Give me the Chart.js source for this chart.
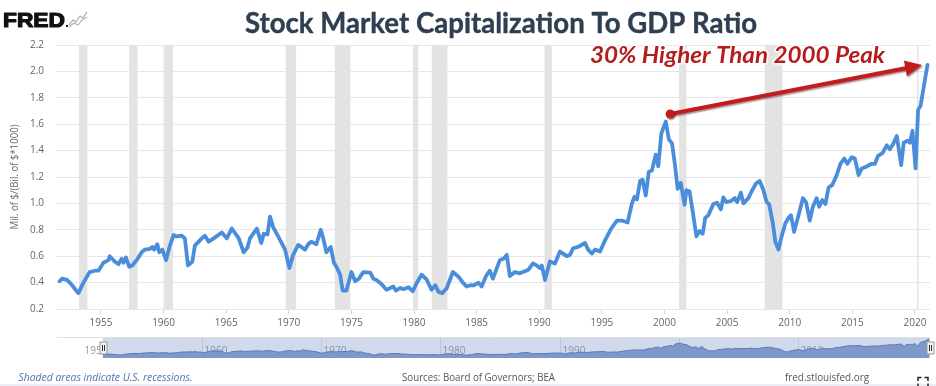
<!DOCTYPE html>
<html>
<head>
<meta charset="utf-8">
<script src="https://cdn.jsdelivr.net/npm/chart.js@4.4.1/dist/chart.umd.min.js"></script>
<style>
    html, body { margin: 0; padding: 0; background: #fff; overflow: hidden; }
    #wrap { position: relative; width: 936px; height: 386px; }
    #mainChart { position: absolute; left: 0; top: 0; }
    #navChart { position: absolute; left: 83px; top: 336px; }
</style>
</head>
<body>
<div id="wrap">
    <canvas id="mainChart" width="936" height="386"></canvas>
    <canvas id="navChart" width="853" height="26"></canvas>
</div>
<script>
// Stock market capitalization to GDP
const years = [
    1951.7, 1951.9, 1952.3, 1952.7, 1953.1, 1953.2, 1953.6, 1954.1, 1954.5, 1954.8,
    1955.2, 1955.6, 1955.7, 1956.1, 1956.4, 1956.65, 1956.8, 1957.0, 1957.25, 1957.5,
    1957.85, 1958.25, 1958.5, 1958.9, 1959.1, 1959.25, 1959.5, 1959.65, 1959.9, 1960.2,
    1960.5, 1960.8, 1961.05, 1961.45, 1961.7, 1961.95, 1962.3, 1962.5, 1963.05, 1963.3,
    1963.6, 1964.0, 1964.65, 1965.05, 1965.45, 1966.0, 1966.4, 1966.7, 1966.9, 1967.45,
    1967.8, 1968.0, 1968.3, 1968.5, 1968.75, 1969.15, 1969.7, 1970.05, 1970.35, 1970.75,
    1971.0, 1971.3, 1971.55, 1971.8, 1972.2, 1972.55, 1972.75, 1973.0, 1973.35, 1973.6,
    1973.8, 1974.1, 1974.3, 1974.6, 1975.0, 1975.3, 1975.6, 1975.95, 1976.5, 1976.75,
    1977.0, 1977.4, 1977.8, 1978.35, 1978.55, 1978.9, 1979.15, 1979.55, 1979.9, 1980.2,
    1980.6, 1981.0, 1981.4, 1981.7, 1981.95, 1982.25, 1982.6, 1983.1, 1983.55, 1983.9,
    1984.2, 1984.5, 1984.8, 1985.15, 1985.4, 1985.75, 1986.05, 1986.3, 1986.85, 1987.2,
    1987.4, 1987.65, 1988.05, 1988.45, 1989.1, 1989.5, 1989.8, 1990.05, 1990.2, 1990.45,
    1990.85, 1991.25, 1991.65, 1992.2, 1992.45, 1992.7, 1993.1, 1993.65, 1993.9, 1994.2,
    1994.45, 1994.85, 1995.25, 1995.75, 1996.2, 1996.6, 1997.05, 1997.4, 1997.6, 1997.8,
    1998.05, 1998.25, 1998.5, 1998.75, 1999.0, 1999.3, 1999.5, 1999.75, 2000.1, 2000.35,
    2000.6, 2000.85, 2001.05, 2001.3, 2001.6, 2001.75, 2002.0, 2002.25, 2002.55, 2002.8,
    2003.05, 2003.25, 2003.5, 2003.9, 2004.2, 2004.5, 2004.7, 2004.95, 2005.35, 2005.6,
    2005.8, 2006.1, 2006.3, 2006.7, 2006.95, 2007.3, 2007.6, 2007.9, 2008.15, 2008.35,
    2008.65, 2008.85, 2009.1, 2009.35, 2009.65, 2009.9, 2010.1, 2010.35, 2010.7, 2011.05,
    2011.3, 2011.6, 2011.85, 2012.15, 2012.35, 2012.6, 2012.85, 2013.1, 2013.4, 2013.75,
    2014.05, 2014.35, 2014.6, 2014.95, 2015.2, 2015.5, 2015.75, 2016.15, 2016.55, 2016.8,
    2017.05, 2017.4, 2017.75, 2018.0, 2018.2, 2018.55, 2018.9, 2019.1, 2019.4, 2019.6,
    2019.8, 2020.05, 2020.25, 2020.45, 2020.75, 2021.0
];
const ratio = [
    0.41, 0.43, 0.42, 0.38, 0.33, 0.32, 0.40, 0.48, 0.49, 0.49,
    0.55, 0.57, 0.60, 0.56, 0.54, 0.58, 0.55, 0.59, 0.52, 0.53,
    0.57, 0.63, 0.65, 0.655, 0.67, 0.65, 0.69, 0.63, 0.65, 0.57,
    0.68, 0.76, 0.75, 0.755, 0.735, 0.53, 0.56, 0.68, 0.735, 0.755,
    0.71, 0.735, 0.78, 0.735, 0.81, 0.735, 0.63, 0.665, 0.735, 0.81,
    0.70, 0.77, 0.765, 0.90, 0.82, 0.75, 0.65, 0.51, 0.61, 0.685,
    0.67, 0.65, 0.69, 0.71, 0.69, 0.80, 0.735, 0.63, 0.67, 0.55,
    0.52, 0.46, 0.34, 0.34, 0.48, 0.41, 0.43, 0.48, 0.475, 0.43,
    0.42, 0.39, 0.345, 0.37, 0.34, 0.36, 0.35, 0.365, 0.335, 0.395,
    0.46, 0.425, 0.345, 0.38, 0.33, 0.32, 0.355, 0.48, 0.445, 0.40,
    0.37, 0.38, 0.38, 0.40, 0.37, 0.45, 0.49, 0.43, 0.57, 0.585,
    0.61, 0.45, 0.48, 0.47, 0.495, 0.545, 0.53, 0.51, 0.53, 0.42,
    0.56, 0.545, 0.635, 0.60, 0.61, 0.66, 0.67, 0.70, 0.65, 0.62,
    0.65, 0.635, 0.72, 0.81, 0.87, 0.87, 0.855, 1.00, 1.05, 1.03,
    1.17, 1.18, 1.06, 1.24, 1.25, 1.37, 1.28, 1.53, 1.62, 1.485,
    1.455, 1.28, 1.11, 1.155, 0.99, 1.10, 1.09, 0.94, 0.75, 0.79,
    0.77, 0.89, 0.91, 0.995, 1.005, 0.955, 1.045, 1.01, 1.02, 1.04,
    1.01, 1.08, 1.00, 1.04, 1.09, 1.15, 1.17, 1.10, 1.01, 0.995,
    0.85, 0.71, 0.65, 0.75, 0.85, 0.89, 0.91, 0.785, 0.91, 1.04,
    1.01, 0.87, 0.975, 1.04, 0.975, 1.025, 0.995, 1.12, 1.14, 1.215,
    1.30, 1.34, 1.30, 1.35, 1.34, 1.215, 1.265, 1.28, 1.30, 1.30,
    1.36, 1.38, 1.44, 1.41, 1.44, 1.51, 1.29, 1.46, 1.475, 1.46,
    1.55, 1.265, 1.71, 1.74, 1.91, 2.05
];

// recession shading, start / end in fractional years
const recessionStart = [1953.25, 1957.25, 1960.0, 1969.75, 1973.67, 1979.92, 1981.42, 1990.42, 2001.17, 2008.0, 2020.17];
const recessionEnd   = [1953.92, 1957.92, 1960.75, 1970.58, 1974.92, 1980.33, 1982.67, 1991.0, 2001.75, 2009.42, 2020.27];

const xTickYears = [1955, 1960, 1965, 1970, 1975, 1980, 1985, 1990, 1995, 2000, 2005, 2010, 2015, 2020];
const yTickValues = [0.2, 0.4, 0.6, 0.8, 1.0, 1.2, 1.4, 1.6, 1.8, 2.0, 2.2];
const navLabelYears = [1950, 1960, 1970, 1980, 1990, 2000, 2010];

// annotation arrow: from the 2000 peak to the latest value
const arrowFrom = [2000.45, 1.677];
const arrowTo = [2020.57, 2.048];

const points = years.map((x, i) => ({ x: x, y: ratio[i] }));

// draw text squeezed/stretched to a given width (the picture is horizontally squashed)
function fitText(ctx, text, font, x, y, width, color, stroke) {
    ctx.save();
    ctx.font = font;
    ctx.fillStyle = color;
    ctx.textAlign = 'left';
    ctx.textBaseline = 'alphabetic';
    const w = ctx.measureText(text).width;
    ctx.translate(x, y);
    ctx.scale(width / w, 1);
    if (stroke) {
        ctx.strokeStyle = color;
        ctx.lineWidth = stroke;
        ctx.lineJoin = 'round';
        ctx.strokeText(text, 0, 0);
    }
    ctx.fillText(text, 0, 0);
    ctx.restore();
}

const recessionBands = {
    id: 'recessionBands',
    beforeDatasetsDraw(chart) {
        const { ctx, chartArea, scales } = chart;
        ctx.save();
        ctx.fillStyle = '#e3e3e3';
        recessionStart.forEach((s, i) => {
            const x0 = scales.x.getPixelForValue(s);
            const x1 = scales.x.getPixelForValue(recessionEnd[i]);
            ctx.fillRect(x0, chartArea.top, Math.max(x1 - x0, 1.5), chartArea.bottom - chartArea.top);
        });
        ctx.restore();
    }
};

const decorations = {
    id: 'decorations',
    afterDraw(chart) {
        const { ctx, scales } = chart;

        // FRED logo
        fitText(ctx, 'FRED', 'bold 21px "Liberation Sans"', 3, 27, 62, '#111', 1.2);
        ctx.save();
        ctx.fillStyle = '#222';
        ctx.fillRect(66, 25, 2, 2);
        ctx.lineWidth = 1.2;
        ctx.strokeStyle = '#9db59a';
        ctx.beginPath();
        ctx.moveTo(69, 25); ctx.lineTo(73, 20); ctx.lineTo(76, 22); ctx.lineTo(80, 16); ctx.lineTo(83, 18); ctx.lineTo(87, 12);
        ctx.stroke();
        ctx.strokeStyle = '#a9b1c9';
        ctx.beginPath();
        ctx.moveTo(69, 27); ctx.lineTo(74, 23); ctx.lineTo(78, 25); ctx.lineTo(82, 20); ctx.lineTo(87, 17);
        ctx.stroke();
        ctx.restore();

        // title
        fitText(ctx, 'Stock Market Capitalization To GDP Ratio', 'bold 28px Lato', 245, 33, 512, '#2f3e50', 0.4);

        // y axis title
        ctx.save();
        ctx.translate(17.5, 177);
        ctx.rotate(-Math.PI / 2);
        fitText(ctx, 'Mil. of $/(Bil. of $*1000)', '10px "Open Sans"', -52.5, 0, 105, '#666');
        ctx.restore();

        // annotation arrow
        const ax0 = scales.x.getPixelForValue(arrowFrom[0]);
        const ay0 = scales.y.getPixelForValue(arrowFrom[1]);
        const ax1 = scales.x.getPixelForValue(arrowTo[0]);
        const ay1 = scales.y.getPixelForValue(arrowTo[1]);
        const ang = Math.atan2(ay1 - ay0, ax1 - ax0);
        const headLen = 17, headHalf = 8;
        const bx = ax1 - headLen * Math.cos(ang);
        const by = ay1 - headLen * Math.sin(ang);
        ctx.save();
        ctx.shadowColor = 'rgba(60,0,0,0.45)';
        ctx.shadowOffsetX = 1;
        ctx.shadowOffsetY = 1.5;
        ctx.shadowBlur = 1.5;
        ctx.strokeStyle = '#c21d1d';
        ctx.fillStyle = '#c21d1d';
        ctx.lineWidth = 4;
        ctx.lineCap = 'round';
        ctx.beginPath();
        ctx.moveTo(ax0, ay0);
        ctx.lineTo(bx, by);
        ctx.stroke();
        ctx.beginPath();
        ctx.arc(ax0, ay0, 4.5, 0, Math.PI * 2);
        ctx.fill();
        ctx.beginPath();
        ctx.moveTo(ax1, ay1);
        ctx.lineTo(bx + headHalf * Math.sin(ang), by - headHalf * Math.cos(ang));
        ctx.lineTo(bx - headHalf * Math.sin(ang), by + headHalf * Math.cos(ang));
        ctx.closePath();
        ctx.fill();
        ctx.restore();

        // annotation text
        ctx.save();
        ctx.font = 'italic bold 22px Lato';
        const tw = ctx.measureText('30% Higher Than 2000 Peak').width;
        ctx.translate(590, 62.5);
        ctx.scale(295 / tw, 1);
        ctx.lineWidth = 3;
        ctx.strokeStyle = 'rgba(255,255,255,0.9)';
        ctx.lineJoin = 'round';
        ctx.strokeText('30% Higher Than 2000 Peak', 0, 0);
        ctx.fillStyle = '#b71c1c';
        ctx.fillText('30% Higher Than 2000 Peak', 0, 0);
        ctx.restore();

        // navigator outline
        ctx.save();
        ctx.strokeStyle = '#e0e0e0';
        ctx.lineWidth = 1;
        ctx.beginPath();
        ctx.moveTo(57, 337.5);
        ctx.lineTo(930, 337.5);
        ctx.stroke();
        ctx.restore();

        // footer
        fitText(ctx, 'Shaded areas indicate U.S. recessions.', 'italic 11px "Open Sans"', 18.5, 380.5, 174, '#4f74b3');
        fitText(ctx, 'Sources: Board of Governors; BEA', '11px "Open Sans"', 402, 380.5, 153, '#555');
        fitText(ctx, 'fred.stlouisfed.org', '11px "Open Sans"', 785, 380.5, 84, '#555');

        // bottom strip and fullscreen icon
        ctx.save();
        ctx.fillStyle = '#e9eef5';
        ctx.fillRect(0, 384, 936, 2);
        ctx.strokeStyle = '#222';
        ctx.lineWidth = 1.5;
        ctx.beginPath();
        ctx.moveTo(918, 381); ctx.lineTo(918, 377.5); ctx.lineTo(921.5, 377.5);
        ctx.moveTo(924.5, 377.5); ctx.lineTo(928, 377.5); ctx.lineTo(928, 381);
        ctx.moveTo(918, 383.5); ctx.lineTo(918, 387);
        ctx.moveTo(928, 383.5); ctx.lineTo(928, 387);
        ctx.stroke();
        ctx.restore();
    }
};

new Chart(document.getElementById('mainChart'), {
    type: 'line',
    data: {
        datasets: [{
            data: points,
            borderColor: '#4a8ddb',
            borderWidth: 3.8,
            pointRadius: 0,
            tension: 0,
            borderJoinStyle: 'round',
            borderCapStyle: 'round'
        }]
    },
    options: {
        responsive: false,
        animation: false,
        layout: { padding: { left: 0, right: 6, top: 45, bottom: 0 } },
        scales: {
            x: {
                type: 'linear',
                min: 1951.49,
                max: 2021.2,
                afterBuildTicks: (scale) => { scale.ticks = xTickYears.map(v => ({ value: v })); },
                afterFit: (scale) => { scale.height = 77; },
                border: { display: false },
                grid: { drawOnChartArea: false, drawTicks: true, tickLength: 5, color: '#ccd6eb' },
                ticks: {
                    autoSkip: false,
                    maxRotation: 0,
                    padding: 3,
                    color: '#666',
                    font: { family: 'Open Sans', size: 10 },
                    callback: (v) => String(v)
                }
            },
            y: {
                min: 0.2,
                max: 2.2,
                afterBuildTicks: (scale) => { scale.ticks = yTickValues.map(v => ({ value: v })); },
                afterFit: (scale) => { scale.width = 57; },
                border: { display: false },
                grid: { color: '#e6e6e6', drawTicks: false },
                ticks: {
                    padding: 13,
                    color: '#666',
                    font: { family: 'Open Sans', size: 10 },
                    callback: (v) => v.toFixed(1)
                }
            }
        },
        plugins: {
            legend: { display: false },
            tooltip: { enabled: false }
        }
    },
    plugins: [recessionBands, decorations]
});

// navigator strip under the chart
const navDecor = {
    id: 'navDecor',
    beforeDatasetsDraw(chart) {
        const { ctx, chartArea, scales } = chart;
        ctx.save();
        ctx.strokeStyle = '#e6e6e6';
        ctx.lineWidth = 1;
        ctx.font = '10px "Open Sans"';
        ctx.fillStyle = '#999';
        ctx.textBaseline = 'middle';
        navLabelYears.forEach(yr => {
            const x = Math.round(scales.x.getPixelForValue(yr)) + 0.5;
            ctx.beginPath();
            ctx.moveTo(x, chartArea.top);
            ctx.lineTo(x, chartArea.bottom);
            ctx.stroke();
            ctx.fillText(String(yr), x + 2, 15);
        });
        ctx.restore();
    },
    afterDatasetsDraw(chart) {
        const { ctx, chartArea, scales } = chart;
        const x0 = scales.x.getPixelForValue(years[0]);
        const x1 = chartArea.right;
        ctx.save();
        ctx.fillStyle = 'rgba(102,133,194,0.3)';
        ctx.fillRect(x0, chartArea.top, x1 - x0, chartArea.bottom - chartArea.top);
        [x0, x1].forEach(hx => {
            const cx = Math.round(hx) + 0.5;
            ctx.fillStyle = '#f2f2f2';
            ctx.strokeStyle = '#999';
            ctx.lineWidth = 1;
            ctx.fillRect(cx - 3.5, 6, 7, 12);
            ctx.strokeRect(cx - 3.5, 6, 7, 12);
            ctx.strokeStyle = '#333';
            ctx.beginPath();
            ctx.moveTo(cx - 1, 9); ctx.lineTo(cx - 1, 15);
            ctx.moveTo(cx + 1, 9); ctx.lineTo(cx + 1, 15);
            ctx.stroke();
        });
        ctx.restore();
    }
};

new Chart(document.getElementById('navChart'), {
    type: 'line',
    data: {
        datasets: [{
            data: points,
            borderColor: '#5673b3',
            borderWidth: 1,
            backgroundColor: '#8aa1cf',
            fill: 'origin',
            pointRadius: 0,
            tension: 0
        }]
    },
    options: {
        responsive: false,
        animation: false,
        layout: { padding: { left: 0, right: 6, top: 2, bottom: 4 } },
        scales: {
            x: { type: 'linear', min: 1950.05, max: 2021.05, display: false },
            y: { min: 0, max: 2.16, display: false }
        },
        plugins: {
            legend: { display: false },
            tooltip: { enabled: false }
        }
    },
    plugins: [navDecor]
});
</script>
</body>
</html>
